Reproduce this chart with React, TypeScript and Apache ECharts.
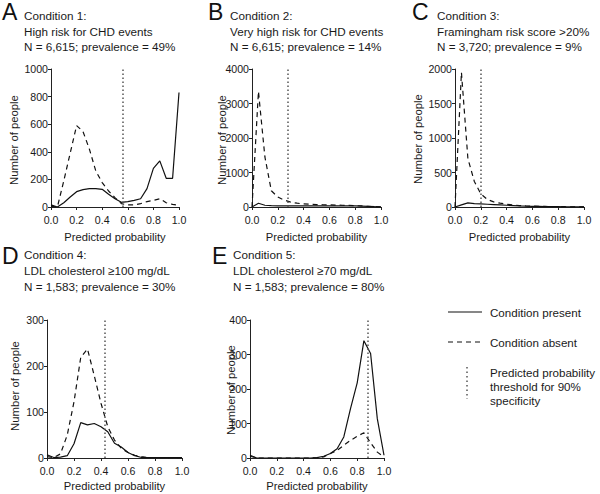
import React, { useEffect, useRef } from "react";
import * as echarts from "echarts";

const probs = [0, 0.05, 0.1, 0.15, 0.2, 0.25, 0.3, 0.35, 0.4, 0.45, 0.5, 0.55, 0.6, 0.65, 0.7, 0.75, 0.8, 0.85, 0.9, 0.95, 1.0];

const presentA = [15, 0, 31, 72, 111, 126, 133, 133, 128, 92, 60, 34, 39, 48, 60, 133, 280, 334, 208, 208, 830];
const absentA = [5, 0, 190, 390, 590, 547, 419, 261, 177, 116, 68, 24, 15, 15, 24, 39, 48, 60, 31, 19, 12];
const presentB = [0, 110, 50, 40, 35, 35, 35, 35, 35, 35, 35, 35, 35, 35, 35, 35, 30, 25, 20, 10, 5];
const absentB = [0, 3350, 1450, 470, 290, 200, 140, 110, 90, 80, 70, 65, 60, 55, 50, 45, 40, 30, 20, 10, 5];
const presentC = [0, 30, 60, 50, 45, 40, 35, 30, 25, 20, 15, 12, 10, 8, 6, 5, 4, 3, 2, 2, 1];
const absentC = [0, 1950, 700, 370, 190, 110, 75, 55, 40, 30, 20, 15, 12, 10, 8, 6, 5, 4, 3, 2, 2];
const presentD = [7, 1, 2, 5, 31, 77, 72, 75, 68, 57, 32, 24, 12, 5, 1, 1, 1, 1, 1, 1, 1];
const absentD = [3, 1, 9, 50, 122, 219, 237, 179, 119, 68, 39, 21, 12, 6, 3, 1, 1, 1, 1, 1, 1];
const presentE = [8, 0, 0, 0, 0, 0, 0, 0, 0, 0, 1, 5, 13, 27, 61, 143, 218, 340, 303, 114, 8];
const absentE = [5, 0, 0, 0, 0, 0, 0, 0, 0, 0, 1, 3, 13, 22, 37, 51, 63, 73, 44, 17, 3];

const thresholds = [0.555, 0.285, 0.205, 0.433, 0.884];
const yMax = [1000, 4000, 2000, 300, 400];
const yStep = [200, 1000, 500, 100, 100];

const letters = ["A", "B", "C", "D", "E"];
const titles = [
  ["Condition 1:", "High risk for CHD events", "N = 6,615; prevalence = 49%"],
  ["Condition 2:", "Very high risk for CHD events", "N = 6,615; prevalence = 14%"],
  ["Condition 3:", "Framingham risk score >20%", "N = 3,720; prevalence = 9%"],
  ["Condition 4:", "LDL cholesterol \u2265100 mg/dL", "N = 1,583; prevalence = 30%"],
  ["Condition 5:", "LDL cholesterol \u226570 mg/dL", "N = 1,583; prevalence = 80%"],
];
const legendLabels = ["Condition present", "Condition absent", "Predicted probability", "threshold for 90%", "specificity"];
const yName = "Number of people";
const xName = "Predicted probability";

const presentAll = [presentA, presentB, presentC, presentD, presentE];
const absentAll = [absentA, absentB, absentC, absentD, absentE];

// layout
const grids = [
  { left: 51, top: 69, width: 128, height: 138 },
  { left: 252, top: 69, width: 129, height: 138 },
  { left: 455, top: 69, width: 129, height: 138 },
  { left: 47, top: 320, width: 135, height: 138 },
  { left: 250, top: 320, width: 134, height: 138 },
];
const letterPos = [
  [2, 12], [208, 12], [412, 12], [2, 256], [212, 256],
];
const titleX = [24, 230, 437, 24, 233];
const titleY = [[15, 31, 46], [15, 31, 46], [15, 31, 46], [254, 270, 286], [254, 270, 286]];
const yNamePos = [[14, 140], [222, 140], [418, 139], [15, 386], [231, 390]];
const xNameY = [237, 237, 237, 486, 486];

const FONT = "'Liberation Sans', Arial, Helvetica, sans-serif";
const TXT = "#1a1a1a";

export default function App() {
  const ref = useRef<HTMLDivElement>(null);
  useEffect(() => {
    if (!ref.current) return;
    const chart = echarts.init(ref.current, undefined, { renderer: "svg" });

    const xAxis: any[] = [];
    const yAxis: any[] = [];
    const series: any[] = [];
    const graphic: any[] = [];

    for (let i = 0; i < 5; i++) {
      xAxis.push({
        gridIndex: i,
        type: "value",
        min: 0,
        max: 1,
        interval: 0.2,
        axisLine: { show: true, lineStyle: { color: "#222", width: 1 } },
        axisTick: { show: true, length: 3, lineStyle: { color: "#222" } },
        splitLine: { show: false },
        axisLabel: {
          color: TXT,
          fontSize: 10.6,
          fontFamily: FONT,
          margin: 7,
          formatter: (v: number) => v.toFixed(1),
        },
      });
      yAxis.push({
        gridIndex: i,
        type: "value",
        min: 0,
        max: yMax[i],
        interval: yStep[i],
        axisLine: { show: true, lineStyle: { color: "#222", width: 1 } },
        axisTick: { show: true, length: 3, lineStyle: { color: "#222" } },
        splitLine: { show: false },
        axisLabel: {
          color: TXT,
          fontSize: 10.6,
          fontFamily: FONT,
          margin: 3,
          formatter: (v: number) => String(v),
        },
      });
      series.push({
        type: "line",
        name: legendLabels[0],
        xAxisIndex: i,
        yAxisIndex: i,
        data: probs.map((p, k) => [p, presentAll[i][k]]),
        symbol: "none",
        lineStyle: { color: "#111", width: 1.2, type: "solid" },
        z: 3,
      });
      series.push({
        type: "line",
        name: legendLabels[1],
        xAxisIndex: i,
        yAxisIndex: i,
        data: probs.map((p, k) => [p, absentAll[i][k]]),
        symbol: "none",
        lineStyle: { color: "#111", width: 1.2, type: [5, 4] },
        z: 3,
        markLine: {
          silent: true,
          symbol: "none",
          label: { show: false },
          lineStyle: { color: "#555", width: 1.5, type: [1.5, 2.5] },
          data: [{ xAxis: thresholds[i] }],
        },
      });

      graphic.push({
        type: "text",
        x: letterPos[i][0],
        y: letterPos[i][1],
        style: { text: letters[i], fontSize: 23, fontFamily: FONT, fill: "#111", align: "left", verticalAlign: "middle" },
      });
      titles[i].forEach((t, j) => {
        graphic.push({
          type: "text",
          x: titleX[i],
          y: titleY[i][j],
          style: { text: t, fontSize: 11.7, fontFamily: FONT, fill: TXT, align: "left", verticalAlign: "middle" },
        });
      });
      graphic.push({
        type: "text",
        x: yNamePos[i][0],
        y: yNamePos[i][1],
        rotation: Math.PI / 2,
        style: {
          text: yName,
          fontSize: 11.3,
          fontFamily: FONT,
          fill: TXT,
          align: "center",
          verticalAlign: "middle",
        },
      });
      graphic.push({
        type: "text",
        x: grids[i].left + grids[i].width / 2,
        y: xNameY[i],
        style: {
          text: xName,
          fontSize: 11.2,
          fontFamily: FONT,
          fill: TXT,
          align: "center",
          verticalAlign: "middle",
        },
      });
    }

    // legend
    graphic.push({
      type: "line",
      shape: { x1: 448, y1: 312, x2: 482, y2: 312 },
      style: { stroke: "#111", lineWidth: 1.2 },
    });
    graphic.push({
      type: "line",
      shape: { x1: 448, y1: 342, x2: 482, y2: 342 },
      style: { stroke: "#111", lineWidth: 1.2, lineDash: [5, 4] },
    });
    graphic.push({
      type: "line",
      shape: { x1: 467, y1: 367, x2: 467, y2: 399 },
      style: { stroke: "#555", lineWidth: 1.5, lineDash: [1.5, 3] },
    });
    const legendY = [312, 342, 372, 386, 400];
    legendLabels.forEach((t, j) => {
      graphic.push({
        type: "text",
        x: 490,
        y: legendY[j],
        style: { text: t, fontSize: 11.6, fontFamily: FONT, fill: TXT, align: "left", verticalAlign: "middle" },
      });
    });

    chart.setOption({
      animation: false,
      backgroundColor: "#ffffff",
      grid: grids.map((g) => ({ ...g, containLabel: false })),
      xAxis,
      yAxis,
      series,
      graphic,
    });
    return () => chart.dispose();
  }, []);

  return (
    <div
      ref={ref}
      style={{ position: "absolute", left: 0, top: 0, width: 600, height: 494 }}
    />
  );
}
